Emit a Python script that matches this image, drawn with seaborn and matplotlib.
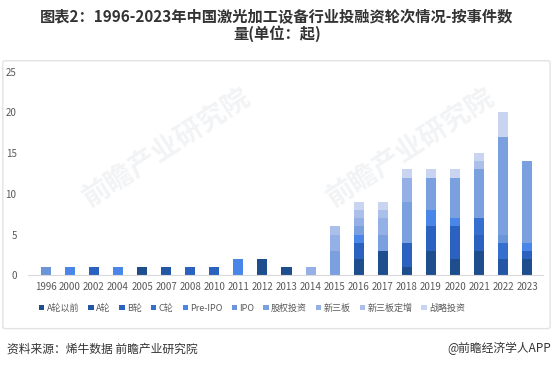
import matplotlib
matplotlib.use("Agg")
import matplotlib.pyplot as plt
import matplotlib.patches as mpatches
import seaborn as sns
import pandas as pd

years = ["1996", "2000", "2002", "2004", "2005", "2007", "2008", "2010", "2011", "2012",
         "2013", "2014", "2015", "2016", "2017", "2018", "2019", "2020", "2021", "2022", "2023"]
rounds = ["A轮以前", "A轮", "B轮", "C轮", "Pre-IPO", "IPO", "股权投资", "新三板", "新三板定增", "战略投资"]
colors = ["#1f4e8f", "#2357a6", "#2c62bf", "#3570d0", "#4a86e8", "#6a95d8",
          "#7ba0df", "#94b0e6", "#aac0ea", "#c9d5f0"]

# counts per round, aligned with years
a_before = [0, 0, 0, 0, 1, 0, 0, 0, 0, 2, 1, 0, 0, 2, 3, 1, 3, 2, 3, 0, 2]
a_round  = [0, 0, 0, 0, 0, 1, 0, 0, 0, 0, 0, 0, 0, 0, 0, 0, 0, 0, 0, 2, 0]
b_round  = [0, 0, 1, 0, 0, 0, 1, 1, 0, 0, 0, 0, 0, 2, 0, 3, 3, 4, 2, 0, 1]
c_round  = [0, 0, 0, 0, 0, 0, 0, 0, 0, 0, 0, 0, 0, 0, 0, 0, 0, 0, 2, 2, 0]
pre_ipo  = [0, 1, 0, 1, 0, 0, 0, 0, 2, 0, 0, 0, 0, 1, 0, 0, 2, 1, 0, 0, 1]
ipo      = [1, 0, 0, 0, 0, 0, 0, 0, 0, 0, 0, 0, 0, 0, 0, 0, 0, 0, 0, 1, 0]
equity   = [0, 0, 0, 0, 0, 0, 0, 0, 0, 0, 0, 0, 3, 1, 2, 5, 4, 5, 6, 12, 10]
neeq     = [0, 0, 0, 0, 0, 0, 0, 0, 0, 0, 0, 1, 2, 1, 2, 3, 0, 0, 0, 0, 0]
neeq_add = [0, 0, 0, 0, 0, 0, 0, 0, 0, 0, 0, 0, 1, 1, 1, 0, 0, 0, 1, 0, 0]
strategic= [0, 0, 0, 0, 0, 0, 0, 0, 0, 0, 0, 0, 0, 1, 1, 1, 1, 1, 1, 3, 0]

series = [a_before, a_round, b_round, c_round, pre_ipo, ipo, equity, neeq, neeq_add, strategic]

rows = []
for i, y in enumerate(years):
    for r, vals in zip(rounds, series):
        rows.append({"year": y, "round": r, "count": vals[i]})
df = pd.DataFrame(rows)

sns.set_theme(style="white")
plt.rcParams['font.family'] = ['Noto Sans CJK SC', 'DejaVu Sans']

fig = plt.figure(figsize=(5.54, 3.68), dpi=100)
ax = fig.add_axes([0.05, 0.252, 0.93, 0.553])

# histplot stacks the first hue level on top, so reverse to put A轮以前 at the bottom
sns.histplot(data=df, x="year", weights="count", hue="round", hue_order=rounds[::-1],
             multiple="stack", palette=colors[::-1], shrink=0.42, discrete=True,
             alpha=1, linewidth=0, edgecolor="none", legend=False, ax=ax)

ax.set_ylim(0, 25)
ax.set_yticks([0, 5, 10, 15, 20, 25])
ax.set_xlim(-0.75, len(years) - 0.35)
ax.set_xlabel("")
ax.set_ylabel("")
for s in ["top", "right", "left"]:
    ax.spines[s].set_visible(False)
ax.spines["bottom"].set_color("#d9d9d9")
ax.spines["bottom"].set_linewidth(0.8)
ax.tick_params(axis="both", length=0, labelsize=7, colors="#595959")
ax.tick_params(axis="x", pad=5)
ax.tick_params(axis="y", pad=8)
ax.grid(False)

# outer panel border
panel = mpatches.FancyBboxPatch((0.005, 0.107), 0.988, 0.728, boxstyle="round,pad=0,rounding_size=0.005",
                                transform=fig.transFigure, facecolor="none",
                                edgecolor="#e3e3e3", linewidth=1.0, zorder=0)
fig.patches.append(panel)

# watermark
for (wx, wy) in [(0.3, 0.6), (0.74, 0.6)]:
    fig.text(wx, wy, "前瞻产业研究院", rotation=33, fontsize=20, color="#e6e8ec", alpha=0.5,
             ha="center", va="center", fontweight="bold", zorder=0)

handles = [mpatches.Patch(facecolor=c, edgecolor="none") for c in colors]
fig.legend(handles, rounds, loc="center", bbox_to_anchor=(0.455, 0.163), ncol=10,
           frameon=False, fontsize=6.5, handlelength=0.6, handleheight=0.6,
           handletextpad=0.25, columnspacing=1.0, labelcolor="#595959")

fig.text(0.5, 0.953, "图表2：1996-2023年中国激光加工设备行业投融资轮次情况-按事件数",
         ha="center", va="center", fontsize=11, fontweight="bold", color="#333333")
fig.text(0.5, 0.91, "量(单位：起)", ha="center", va="center", fontsize=11,
         fontweight="bold", color="#333333")

fig.text(0.012, 0.052, "资料来源：烯牛数据 前瞻产业研究院", ha="left", va="center",
         fontsize=8.5, color="#333333")
fig.text(0.995, 0.052, "@前瞻经济学人APP", ha="right", va="center",
         fontsize=8.5, color="#333333")

fig.savefig("out.png", dpi=100)
